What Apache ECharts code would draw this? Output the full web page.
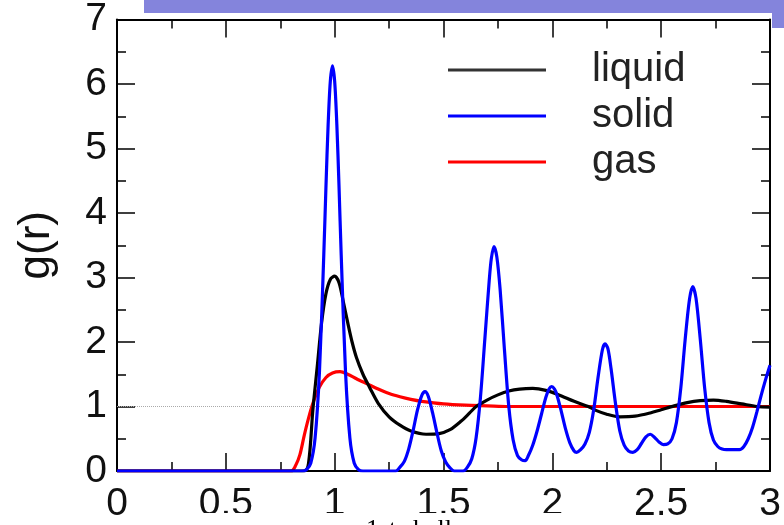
<!DOCTYPE html>
<html>
<head>
<meta charset="utf-8">
<script src="https://cdn.jsdelivr.net/npm/echarts@6/dist/echarts.min.js"></script>
<style>html,body{margin:0;padding:0;background:#fff}#c{width:784px;height:525px}</style>
</head>
<body>
<div id="c"></div>
<script>
// r values and g(r) values
const seriesNames = ['liquid', 'solid', 'gas'];
const xTicks = [0, 0.5, 1, 1.5, 2, 2.5, 3];
const yTicks = [0, 1, 2, 3, 4, 5, 6, 7];

const liquid = [[0,0],[0.86,0],[0.88,0.12],[0.90,0.95],[0.92,1.62],[0.94,2.3],[0.96,2.75],[0.98,2.97],[1.0,3.02],[1.02,2.92],[1.04,2.62],[1.06,2.3],[1.08,2.0],[1.10,1.76],[1.13,1.5],[1.16,1.3],[1.20,1.05],[1.25,0.84],[1.30,0.71],[1.35,0.62],[1.42,0.57],[1.48,0.58],[1.53,0.64],[1.58,0.77],[1.62,0.9],[1.65,1.0],[1.70,1.1],[1.75,1.18],[1.80,1.24],[1.85,1.27],[1.91,1.28],[1.97,1.25],[2.03,1.18],[2.10,1.08],[2.165,1.0],[2.20,0.94],[2.25,0.88],[2.31,0.84],[2.38,0.85],[2.45,0.9],[2.50,0.95],[2.56,1.01],[2.62,1.06],[2.68,1.09],[2.74,1.1],[2.80,1.08],[2.87,1.04],[2.94,1.0],[3.0,0.99]];

const solid = [[0,0],[0.85,0],[0.87,0.02],[0.89,0.12],[0.91,0.51],[0.93,1.53],[0.95,3.35],[0.96,4.41],[0.97,5.37],[0.98,6.04],[0.99,6.28],[1.0,6.04],[1.01,5.37],[1.02,4.41],[1.03,3.35],[1.05,1.53],[1.07,0.51],[1.09,0.12],[1.11,0.02],[1.13,0],[1.28,0],[1.30,0.06],[1.32,0.15],[1.34,0.34],[1.36,0.62],[1.38,0.94],[1.40,1.17],[1.415,1.23],[1.43,1.16],[1.45,0.9],[1.47,0.59],[1.49,0.31],[1.51,0.14],[1.53,0.05],[1.55,0],[1.59,0],[1.61,0.06],[1.63,0.19],[1.65,0.52],[1.67,1.15],[1.69,2.05],[1.71,2.95],[1.72,3.3],[1.732,3.48],[1.745,3.32],[1.76,2.82],[1.78,1.88],[1.80,1.0],[1.82,0.48],[1.84,0.24],[1.86,0.17],[1.875,0.16],[1.89,0.24],[1.91,0.4],[1.93,0.62],[1.95,0.88],[1.97,1.14],[1.985,1.27],[1.997,1.31],[2.01,1.27],[2.02,1.19],[2.04,0.94],[2.06,0.66],[2.08,0.44],[2.10,0.31],[2.112,0.29],[2.13,0.33],[2.15,0.42],[2.17,0.6],[2.19,0.95],[2.21,1.45],[2.23,1.88],[2.242,1.97],[2.255,1.9],[2.27,1.58],[2.29,1.05],[2.31,0.62],[2.33,0.4],[2.35,0.31],[2.37,0.29],[2.39,0.33],[2.41,0.43],[2.43,0.53],[2.45,0.57],[2.47,0.52],[2.49,0.45],[2.51,0.41],[2.53,0.42],[2.55,0.5],[2.57,0.75],[2.59,1.28],[2.61,2.03],[2.63,2.66],[2.645,2.86],[2.66,2.68],[2.68,2.03],[2.70,1.28],[2.72,0.75],[2.74,0.48],[2.76,0.38],[2.78,0.34],[2.80,0.33],[2.86,0.33],[2.88,0.38],[2.90,0.5],[2.92,0.68],[2.94,0.92],[2.96,1.18],[2.98,1.42],[3.0,1.64]];

const gas = [[0,0],[0.80,0],[0.82,0.08],[0.84,0.25],[0.86,0.55],[0.88,0.82],[0.90,1.05],[0.93,1.3],[0.96,1.45],[0.99,1.52],[1.025,1.54],[1.06,1.5],[1.10,1.43],[1.15,1.35],[1.20,1.27],[1.25,1.2],[1.30,1.15],[1.35,1.11],[1.40,1.08],[1.50,1.04],[1.60,1.02],[1.70,1.01],[1.80,1.0],[3.0,1.0]];

const referenceLine = 1;

const FONT = 'Liberation Sans, Arial, sans-serif';
const chart = echarts.init(document.getElementById('c'), null, {renderer: 'canvas'});

function tickAxis(extra) {
  return Object.assign({
    type: 'value',
    axisLine: {show: true, onZero: false, lineStyle: {color: '#000', width: 2}},
    axisTick: {show: true, inside: true, length: 18, lineStyle: {color: '#000', width: 1.5}},
    minorTick: {show: true, splitNumber: 2, length: 9, lineStyle: {color: '#000', width: 1.5}},
    splitLine: {show: false},
    minorSplitLine: {show: false}
  }, extra);
}

const lineCommon = {type: 'line', showSymbol: false, symbol: 'none', smooth: 0.3, clip: true};

chart.setOption({
  animation: false,
  backgroundColor: '#fff',
  grid: {left: 117, right: 14, top: 15, bottom: 54},
  legend: {
    data: seriesNames,
    orient: 'vertical',
    left: 448, top: 50, padding: 0,
    icon: 'rect',
    itemWidth: 98, itemHeight: 3, itemGap: 6,
    textStyle: {fontSize: 40, fontFamily: FONT, color: '#222', lineHeight: 40, padding: [0, 0, 0, 41]}
  },
  xAxis: [
    tickAxis({min: 0, max: 3, interval: xTicks[1] - xTicks[0], position: 'bottom',
      axisLabel: {fontSize: 39, fontFamily: FONT, color: '#111', margin: 14}}),
    tickAxis({min: 0, max: 3, interval: xTicks[1] - xTicks[0], position: 'top', axisLabel: {show: false}})
  ],
  yAxis: [
    tickAxis({min: 0, max: 7, interval: yTicks[1] - yTicks[0], position: 'left',
      name: 'g(r)', nameLocation: 'middle', nameGap: 58, nameRotate: 90,
      nameTextStyle: {fontSize: 44, fontFamily: FONT, color: '#111'},
      axisLabel: {fontSize: 39, fontFamily: FONT, color: '#111', margin: 10}}),
    tickAxis({min: 0, max: 7, interval: yTicks[1] - yTicks[0], position: 'right', axisLabel: {show: false}})
  ],
  series: [
    Object.assign({}, lineCommon, {name: 'gas', data: gas, z: 2, lineStyle: {color: '#ff0000', width: 3.2}, itemStyle: {color: '#ff0000'},
      markLine: {silent: true, symbol: ['none', 'none'], label: {show: false}, z: 1,
        lineStyle: {color: '#aaaaaa', type: 'dotted', width: 1}, data: [{yAxis: referenceLine}]}}),
    Object.assign({}, lineCommon, {name: 'liquid', data: liquid, z: 3, lineStyle: {color: '#000000', width: 3.2}, itemStyle: {color: '#333'}}),
    Object.assign({}, lineCommon, {name: 'solid', data: solid, z: 4, lineStyle: {color: '#0000ff', width: 3.2}, itemStyle: {color: '#0000ff'}})
  ],
  graphic: [
    {type: 'rect', z: 100, shape: {x: 144, y: 0, width: 640, height: 13}, style: {fill: '#8484dc'}},
    {type: 'rect', z: 100, shape: {x: 772, y: 0, width: 12, height: 28}, style: {fill: '#8484dc'}},
    {type: 'rect', z: 100, shape: {x: 150, y: 513, width: 450, height: 12}, style: {fill: '#ffffff'}},
    {type: 'text', z: 101, left: 366, top: 517, style: {text: '1st shell', fontSize: 26, fontFamily: 'Liberation Serif, Times New Roman, serif', fill: '#000'}}
  ]
});
</script>
</body>
</html>
